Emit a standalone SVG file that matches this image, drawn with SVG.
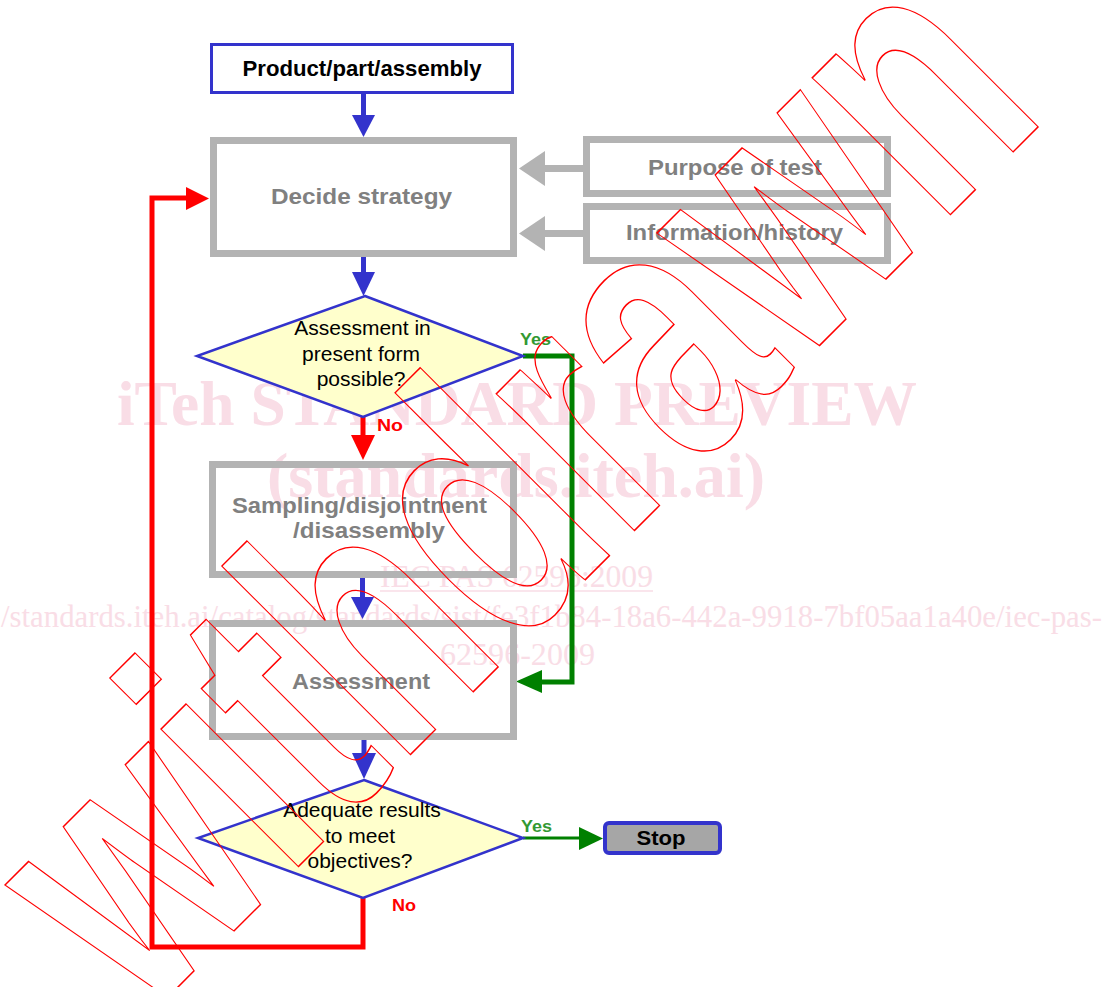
<svg xmlns="http://www.w3.org/2000/svg" width="1103" height="987" viewBox="0 0 1103 987">
<style>
.wm{font-family:"Liberation Serif","Times New Roman",serif;fill:#f9dde6}
.wmb{font-weight:bold}
.gbox{fill:none;stroke:#b3b3b3;stroke-width:7}
.gt{font-family:"Liberation Sans",Arial,sans-serif;font-weight:bold;font-size:22px;fill:#808080;text-anchor:middle}
.bt{font-family:"Liberation Sans",Arial,sans-serif;font-weight:bold;font-size:22px;fill:#000;text-anchor:middle}
.dia{fill:#ffffcc;stroke:#3333cc;stroke-width:2.5}
.dt{font-family:"Liberation Sans",Arial,sans-serif;font-size:21px;fill:#000;text-anchor:middle}
.lbl{font-family:"Liberation Sans",Arial,sans-serif;font-weight:bold;font-size:16px}
.blue{stroke:#3333cc;stroke-width:5;fill:none}
.bluef{fill:#3333cc}
.red{stroke:#ff0000;stroke-width:5;fill:none}
.redf{fill:#ff0000}
.green{stroke:#008000;stroke-width:5;fill:none}
.greenf{fill:#008000}
.gray{stroke:#b3b3b3;stroke-width:7;fill:none}
.grayf{fill:#b3b3b3}
</style>
<rect width="1103" height="987" fill="#ffffff"/>
<g id="watermark">
<text class="wm wmb" x="117" y="425" font-size="63" textLength="800" lengthAdjust="spacingAndGlyphs">iTeh STANDARD PREVIEW</text>
<text class="wm wmb" x="267" y="497" font-size="63" textLength="498" lengthAdjust="spacingAndGlyphs">(standards.iteh.ai)</text>
<text class="wm" x="380" y="587" font-size="31" textLength="273" lengthAdjust="spacingAndGlyphs">IEC PAS 62596:2009</text>
<line x1="380" y1="591" x2="653" y2="591" stroke="#f9dde6" stroke-width="1.5"/>
<text class="wm" x="1" y="627" font-size="31" textLength="1101" lengthAdjust="spacingAndGlyphs">/standards.iteh.ai/catalog/standards/sist/fe3f1b84-18a6-442a-9918-7bf05aa1a40e/iec-pas-</text>
<text class="wm" x="440" y="665" font-size="31" textLength="155" lengthAdjust="spacingAndGlyphs">62596-2009</text>
</g>
<g id="connectors">
<line class="blue" x1="363.5" y1="94" x2="363.5" y2="118"/>
<polygon class="bluef" points="352,115 375,115 363.5,137"/>
<line class="blue" x1="363.5" y1="257" x2="363.5" y2="275"/>
<polygon class="bluef" points="352,272 375,272 363.5,296"/>
<line class="blue" x1="362.5" y1="578" x2="362.5" y2="600"/>
<polygon class="bluef" points="351,597 374,597 362.5,619"/>
<line class="blue" x1="364" y1="740" x2="364" y2="756"/>
<polygon class="bluef" points="352,753 376,753 364,779"/>
<line class="red" x1="363" y1="417" x2="363" y2="438"/>
<polygon class="redf" points="351,435 375,435 363,460"/>
<polyline class="red" points="363,898 363,947 152,947 152,198 188,198"/>
<polygon class="redf" points="186,187 186,210 209,198.5"/>
<polyline class="green" points="523,356 572,356 572,682 540,682"/>
<polygon class="greenf" points="542,670 542,693 516,681.5"/>
<line class="green" style="stroke-width:3" x1="523" y1="838" x2="581" y2="838"/>
<polygon class="greenf" points="579,827 579,850 603,838.5"/>
<line class="gray" x1="583" y1="168.5" x2="543" y2="168.5"/>
<polygon class="grayf" points="545,151 545,186 519,168.5"/>
<line class="gray" x1="583" y1="233.5" x2="543" y2="233.5"/>
<polygon class="grayf" points="545,216 545,251 519,233.5"/>
<text class="lbl" x="520" y="345" fill="#339933" textLength="31" lengthAdjust="spacingAndGlyphs">Yes</text>
<text class="lbl" x="377" y="431" fill="#ff0000" textLength="26" lengthAdjust="spacingAndGlyphs">No</text>
<text class="lbl" x="521" y="832" fill="#339933" textLength="31" lengthAdjust="spacingAndGlyphs">Yes</text>
<text class="lbl" x="392" y="911" fill="#ff0000" textLength="24" lengthAdjust="spacingAndGlyphs">No</text>
</g>
<g id="product">
<rect x="211.5" y="44.5" width="301" height="48" fill="#ffffff" stroke="#3333cc" stroke-width="3"/>
<text class="bt" x="362" y="76" textLength="239" lengthAdjust="spacingAndGlyphs">Product/part/assembly</text>
</g>
<g id="decide">
<rect class="gbox" x="213.5" y="140.5" width="300" height="113"/>
<text class="gt" x="361.5" y="204" textLength="181" lengthAdjust="spacingAndGlyphs">Decide strategy</text>
</g>
<g id="purpose">
<rect class="gbox" x="586.5" y="139.5" width="301" height="54"/>
<text class="gt" x="735" y="175" textLength="174" lengthAdjust="spacingAndGlyphs">Purpose of test</text>
</g>
<g id="information">
<rect class="gbox" x="586.5" y="206.5" width="301" height="54"/>
<text class="gt" x="734.5" y="240" textLength="217" lengthAdjust="spacingAndGlyphs">Information/history</text>
</g>
<g id="decision1">
<polygon class="dia" points="365,296 523,356 363,417 197,356"/>
<text class="dt" x="362.5" y="335">Assessment in</text>
<text class="dt" x="361" y="361">present form</text>
<text class="dt" x="361" y="386">possible?</text>
</g>
<g id="sampling">
<rect class="gbox" x="212.5" y="464.5" width="301" height="110"/>
<text class="gt" x="359.5" y="513" textLength="255" lengthAdjust="spacingAndGlyphs">Sampling/disjointment</text>
<text class="gt" x="369" y="538" textLength="152" lengthAdjust="spacingAndGlyphs">/disassembly</text>
</g>
<g id="assessment">
<rect class="gbox" x="212.5" y="623.5" width="301" height="113"/>
<text class="gt" x="361" y="689" textLength="138" lengthAdjust="spacingAndGlyphs">Assessment</text>
</g>
<g id="decision2">
<polygon class="dia" points="364,780 523,838 363,898 198,838"/>
<text class="dt" x="362" y="817">Adequate results</text>
<text class="dt" x="360" y="843">to meet</text>
<text class="dt" x="360" y="868">objectives?</text>
</g>
<g id="stop">
<rect x="605" y="823" width="115" height="30" rx="4" fill="#a6a6a6" stroke="#3333cc" stroke-width="4"/>
<text class="bt" x="661" y="845" style="font-size:21px" textLength="49" lengthAdjust="spacingAndGlyphs">Stop</text>
</g>
<g id="withdrawn">
<text transform="translate(143,1022) rotate(-45)" font-family="'Liberation Sans',Arial,sans-serif" font-weight="bold" font-size="368" textLength="1282" lengthAdjust="spacingAndGlyphs" fill="none" stroke="#ff0000" stroke-width="1.5">withdrawn</text>
</g>
</svg>
